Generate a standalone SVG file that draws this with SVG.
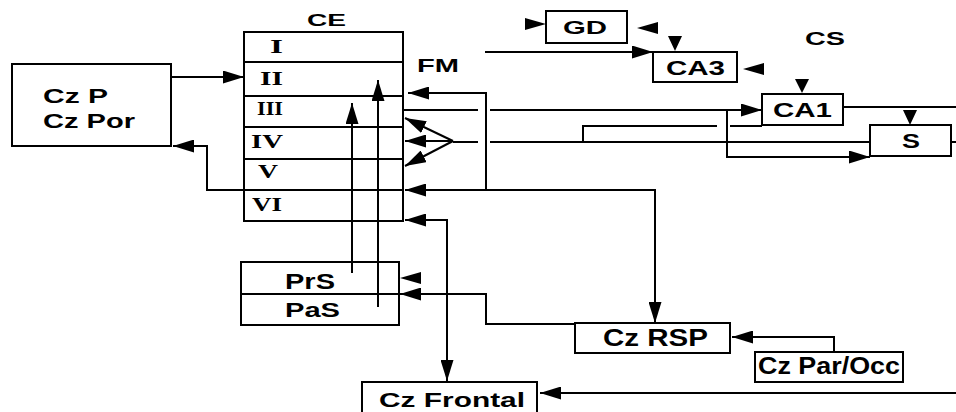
<svg xmlns="http://www.w3.org/2000/svg" width="956" height="412" viewBox="0 0 956 412">
<defs>
<style>
.box{fill:#fff;stroke:#000;stroke-width:2}
.ln{fill:none;stroke:#000;stroke-width:2}
.ar{marker-end:url(#ah)}
.ar2{marker-start:url(#ah);marker-end:url(#ah)}
.t{font-family:"Liberation Sans",Arial,sans-serif;font-weight:bold;fill:#000}
.r{font-family:"Liberation Serif","Times New Roman",serif;font-weight:bold;font-size:19px;fill:#000}
.hd{fill:#000}
</style>
<marker id="ah" viewBox="0 0 10 10" refX="10" refY="5" markerWidth="21" markerHeight="13" markerUnits="userSpaceOnUse" orient="auto-start-reverse" preserveAspectRatio="none">
<path d="M0,0 L10,5 L0,10 Z" fill="#000"/>
</marker>
</defs>
<rect width="956" height="412" fill="#fff"/>

<g id="connectors">
<path class="ln ar" d="M171,77 H244"/>
<path class="ln ar" d="M244,190 H207 V146 H173"/>
<path class="ln ar" d="M486,190 V93 H408"/>
<path class="ln ar2" d="M405,190 H655 V323"/>
<path class="ln" d="M403,110 H478"/>
<path class="ln ar" d="M490,110 H762"/>
<path class="ln ar" d="M727,110 V157 H870"/>
<path class="ln" d="M870,142 H490 M478,142 H453"/>
<path class="ln ar" d="M453,141 L405,118"/>
<path class="ln ar" d="M453,141 L405,141"/>
<path class="ln ar" d="M453,141 L405,166"/>
<path class="ln" d="M762,126 H730 M717,126 H583 V142"/>
<path class="ln" d="M843,107 H956"/>
<path class="ln" d="M951,142 H956"/>
<path class="ln ar" d="M485,52 H653"/>
<path class="ln ar" d="M352,273 V103"/>
<path class="ln ar" d="M378,307 V80"/>
<path class="ln ar2" d="M405,220 H447 V381"/>
<path class="ln ar" d="M575,324 H486 V294 H400"/>
<path class="ln ar" d="M834,352 V337 H732"/>
<path class="ln ar" d="M956,393 H540"/>
<polygon class="hd" points="525,18 546,24 525,30"/>
<polygon class="hd" points="658,22 637,28 658,34"/>
<polygon class="hd" points="668,36 682,36 675,51"/>
<polygon class="hd" points="764,63 743,69 764,75"/>
<polygon class="hd" points="795,79 809,79 802,93"/>
<polygon class="hd" points="903,110 917,110 910,125"/>
<polygon class="hd" points="421,272 400,278 421,284"/>
</g>

<g id="CE">
<text class="t" x="307" y="26" font-size="16" textLength="39" lengthAdjust="spacingAndGlyphs">CE</text>
<rect class="box" x="244" y="32" width="159" height="189" style="fill:none"/>
<path class="ln" d="M244,62 H403 M244,96 H403 M244,127 H403 M244,159 H403 M244,190 H403"/>
<text class="r" x="270" y="53" textLength="13" lengthAdjust="spacingAndGlyphs">I</text>
<text class="r" x="260" y="85" textLength="23" lengthAdjust="spacingAndGlyphs">II</text>
<text class="r" x="257" y="115" textLength="26" lengthAdjust="spacingAndGlyphs">III</text>
<text class="r" x="251" y="148" textLength="32" lengthAdjust="spacingAndGlyphs">IV</text>
<text class="r" x="258" y="178" textLength="20" lengthAdjust="spacingAndGlyphs">V</text>
<text class="r" x="252" y="211" textLength="30" lengthAdjust="spacingAndGlyphs">VI</text>
</g>

<g id="FM"><text class="t" x="417" y="72" font-size="19" textLength="42" lengthAdjust="spacingAndGlyphs">FM</text></g>
<g id="CS"><text class="t" x="805" y="45" font-size="18" textLength="40" lengthAdjust="spacingAndGlyphs">CS</text></g>

<g id="CzP">
<rect class="box" x="12" y="64" width="159" height="82" style="fill:none"/>
<text class="t" x="43" y="103" font-size="20" textLength="65" lengthAdjust="spacingAndGlyphs">Cz P</text>
<text class="t" x="43" y="128" font-size="20" textLength="92" lengthAdjust="spacingAndGlyphs">Cz Por</text>
</g>

<g id="GD">
<rect class="box" x="546" y="11" width="81" height="32"/>
<text class="t" x="563" y="34" font-size="18" textLength="44" lengthAdjust="spacingAndGlyphs">GD</text>
</g>

<g id="CA3">
<rect class="box" x="653" y="52" width="84" height="30"/>
<text class="t" x="666" y="75" font-size="20" textLength="59" lengthAdjust="spacingAndGlyphs">CA3</text>
</g>

<g id="CA1">
<rect class="box" x="762" y="94" width="81" height="31"/>
<text class="t" x="773" y="117" font-size="20" textLength="59" lengthAdjust="spacingAndGlyphs">CA1</text>
</g>

<g id="S">
<rect class="box" x="870" y="125" width="81" height="31"/>
<text class="t" x="902" y="148" font-size="20" textLength="18" lengthAdjust="spacingAndGlyphs">S</text>
</g>

<g id="PrS_PaS">
<rect class="box" x="241" y="262" width="158" height="63" style="fill:none"/>
<path class="ln" d="M241,294 H399"/>
<text class="t" x="285" y="289" font-size="22" textLength="50" lengthAdjust="spacingAndGlyphs">PrS</text>
<text class="t" x="285" y="317" font-size="21" textLength="55" lengthAdjust="spacingAndGlyphs">PaS</text>
</g>

<g id="CzRSP">
<rect class="box" x="575" y="323" width="155" height="30"/>
<text class="t" x="603" y="346" font-size="23" textLength="105" lengthAdjust="spacingAndGlyphs">Cz RSP</text>
</g>

<g id="CzParOcc">
<rect class="box" x="755" y="352" width="148" height="30"/>
<text class="t" x="758" y="374" font-size="23" textLength="142" lengthAdjust="spacingAndGlyphs">Cz Par/Occ</text>
</g>

<g id="CzFrontal">
<rect class="box" x="362" y="382" width="175" height="36"/>
<text class="t" x="379" y="407" font-size="21" textLength="146" lengthAdjust="spacingAndGlyphs">Cz Frontal</text>
</g>
</svg>
